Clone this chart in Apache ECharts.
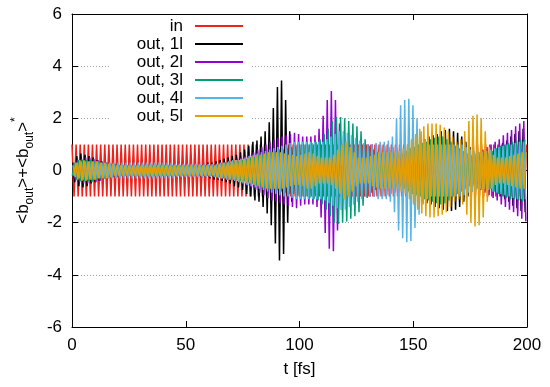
<!DOCTYPE html>
<html>
<head>
<meta charset="utf-8">
<script src="https://cdn.jsdelivr.net/npm/echarts@6/dist/echarts.min.js"></script>
<style>html,body{margin:0;padding:0;background:#fff}#c{width:550px;height:387px}</style>
</head>
<body>
<div id="c"></div>
<script>
// sampling grid: successive extrema (half-period) of the oscillation, fs
const halfPeriod = 0.9;
const seriesNames = ['in', 'out, 1l', 'out, 2l', 'out, 3l', 'out, 4l', 'out, 5l'];
const startTimes = [0, 0.3, 0.6, 0.15, 0.45, 0.75];
const xTicks = [0, 50, 100, 150, 200];
const yTicks = [-6, -4, -2, 0, 2, 4, 6];

const inValues = [
1,-1,1,-1,1,-1,1,-1,1,-1, 1,-1,1,-1,1,-1,1,-1,1,-1, 1,-1,1,-1,1,-1,1,-1,1,-1,
1,-1,1,-1,1,-1,1,-1,1,-1, 1,-1,1,-1,1,-1,1,-1,1,-1, 1,-1,1,-1,1,-1,1,-1,1,-1,
1,-1,1,-1,1,-1,1,-1,1,-1, 1,-1,1,-1,1,-1,1,-1,1,-1, 1,-1,1,-1,1,-1,1,-1,1,-1,
1,-1,1,-1,1,-1,1,-1,1,-1, 1,-1,1,-1,1,-1,1,-1,1,-1, 1,-1,1,-1,1,-1,1,-1,1,-1,
1,-1,1,-1,1,-1,1,-1,1,-1, 1,-1,1,-1,1,-1,1,-1,1,-1, 1,-1,1,-1,1,-1,1,-1,1,-1,
1,-1,1,-1,1,-1,1,-1,1,-1, 1,-1,1,-1,1,-1,1,-1,1,-1, 1,-1,1,-1,1,-1,1,-1,1,-1,
1,-1,1,-1,1,-1,1,-1,1,-1, 1,-1,1,-1,1,-1,1,-1,1,-1, 1,-1,1,-1,1,-1,1,-1,1,-1,
1,-1,1,-1,1,-1,1,-1,1,-1, 1,-1,1
];

const out1Values = [
0.3,-0.45,0.55,-0.6,0.65,-0.65,0.6,-0.6,0.55,-0.5,
0.5,-0.45,0.4,-0.4,0.35,-0.3,0.3,-0.3,0.25,-0.25,
0.25,-0.2,0.2,-0.2,0.2,-0.2,0.15,-0.15,0.15,-0.15,
0.15,-0.15,0.15,-0.15,0.15,-0.15,0.15,-0.15,0.15,-0.15,
0.15,-0.15,0.15,-0.15,0.15,-0.15,0.15,-0.15,0.15,-0.15,
0.15,-0.15,0.15,-0.15,0.15,-0.2,0.2,-0.2,0.2,-0.2,
0.2,-0.2,0.2,-0.25,0.25,-0.25,0.3,-0.3,0.3,-0.35,
0.35,-0.35,0.4,-0.4,0.45,-0.45,0.5,-0.5,0.55,-0.6,
0.6,-0.65,0.7,-0.75,0.8,-0.9,0.95,-1.0,1.1,-1.15,
1.15,-1.2,1.3,-1.4,1.5,-1.65,1.85,-2.1,2.4,-2.8,
3.2,-3.45,3.45,-3.2,2.7,-2.0,1.5,-1.2,1.0,-0.9,
0.8,-0.7,0.7,-0.6,0.6,-0.6,0.5,-0.5,0.5,-0.5,
0.5,-0.5,0.5,-0.5,0.5,-0.5,0.5,-0.5,0.5,-0.5,
0.5,-0.5,0.5,-0.5,0.5,-0.5,0.5,-0.5,0.5,-0.5,
0.5,-0.5,0.5,-0.5,0.55,-0.55,0.6,-0.6,0.6,-0.6,
0.6,-0.6,0.65,-0.65,0.7,-0.7,0.7,-0.75,0.75,-0.8,
0.8,-0.85,0.9,-0.9,0.95,-1.0,1.0,-1.05,1.1,-1.1,
1.15,-1.2,1.2,-1.25,1.3,-1.3,1.35,-1.4,1.4,-1.45,
1.5,-1.5,1.55,-1.55,1.6,-1.55,1.5,-1.5,1.45,-1.4,
1.3,-1.2,1.1,-1.0,0.9,-0.8,0.75,-0.7,0.65,-0.6,
0.6,-0.6,0.6,-0.65,0.7,-0.75,0.8,-0.85,0.9,-1.0,
1.05,-1.1,1.15,-1.2,1.3,-1.35,1.4,-1.45,1.5,-1.55,
1.6,-1.6
];

const out2Values = [
0.25,-0.35,0.4,-0.45,0.45,-0.5,0.5,-0.5,0.5,-0.45,
0.45,-0.45,0.4,-0.4,0.35,-0.3,0.3,-0.25,0.25,-0.2,
0.2,-0.2,0.2,-0.15,0.15,-0.15,0.15,-0.15,0.15,-0.15,
0.15,-0.15,0.15,-0.15,0.15,-0.15,0.15,-0.15,0.15,-0.15,
0.15,-0.15,0.15,-0.15,0.15,-0.15,0.15,-0.15,0.15,-0.15,
0.15,-0.15,0.15,-0.15,0.15,-0.15,0.15,-0.15,0.15,-0.15,
0.15,-0.15,0.15,-0.2,0.2,-0.2,0.2,-0.2,0.25,-0.25,
0.25,-0.25,0.3,-0.3,0.3,-0.35,0.35,-0.35,0.4,-0.4,
0.45,-0.45,0.5,-0.5,0.55,-0.6,0.6,-0.65,0.7,-0.75,
0.8,-0.85,0.9,-0.95,1.0,-1.05,1.1,-1.15,1.2,-1.2,
1.25,-1.25,1.3,-1.3,1.35,-1.35,1.4,-1.4,1.45,-1.45,
1.4,-1.35,1.3,-1.3,1.3,-1.3,1.3,-1.3,1.35,-1.4,
1.6,-1.8,2.1,-2.4,2.7,-3.0,3.05,-3.1,2.7,-2.3,
1.8,-1.5,1.3,-1.15,1.05,-1.0,1.0,-1.0,1.0,-1.0,
1.0,-1.0,1.0,-1.0,1.0,-1.0,1.0,-1.0,1.0,-1.0,
1.0,-1.0,0.95,-0.95,0.9,-0.9,0.9,-0.85,0.85,-0.8,
0.8,-0.8,0.75,-0.75,0.7,-0.7,0.7,-0.65,0.65,-0.6,
0.6,-0.6,0.55,-0.55,0.5,-0.5,0.5,-0.5,0.5,-0.5,
0.5,-0.5,0.5,-0.5,0.5,-0.5,0.5,-0.5,0.5,-0.5,
0.5,-0.5,0.55,-0.55,0.6,-0.6,0.65,-0.7,0.7,-0.75,
0.8,-0.85,0.9,-0.95,1.0,-1.05,1.1,-1.15,1.2,-1.3,
1.35,-1.4,1.45,-1.5,1.55,-1.6,1.7,-1.75,1.8,-1.85,
1.9,-1.95
];

const out3Values = [
-0.2,0.3,-0.35,0.4,-0.4,0.4,-0.4,0.4,-0.4,0.4,
-0.4,0.35,-0.35,0.35,-0.3,0.3,-0.3,0.3,-0.25,0.25,
-0.25,0.25,-0.25,0.2,-0.2,0.2,-0.2,0.2,-0.2,0.2,
-0.2,0.2,-0.2,0.2,-0.2,0.2,-0.2,0.2,-0.2,0.2,
-0.2,0.2,-0.2,0.2,-0.2,0.2,-0.2,0.2,-0.2,0.2,
-0.2,0.2,-0.2,0.2,-0.2,0.2,-0.2,0.2,-0.2,0.2,
-0.2,0.2,-0.2,0.2,-0.2,0.2,-0.2,0.2,-0.2,0.2,
-0.2,0.2,-0.25,0.25,-0.25,0.3,-0.3,0.3,-0.3,0.35,
-0.35,0.35,-0.4,0.4,-0.4,0.45,-0.45,0.5,-0.5,0.5,
-0.55,0.55,-0.6,0.6,-0.65,0.65,-0.7,0.7,-0.7,0.75,
-0.75,0.8,-0.8,0.8,-0.85,0.85,-0.9,0.9,-0.9,0.95,
-0.95,1.0,-1.0,1.0,-1.0,1.0,-1.05,1.05,-1.1,1.1,
-1.15,1.2,-1.3,1.4,-1.5,1.6,-1.75,1.9,-2.0,2.05,
-2.05,2.05,-2.0,2.0,-1.95,1.9,-1.85,1.8,-1.75,1.7,
-1.6,1.5,-1.35,1.2,-1.05,0.95,-0.85,0.8,-0.75,0.7,
-0.7,0.65,-0.6,0.6,-0.6,0.6,-0.6,0.6,-0.6,0.6,
-0.6,0.65,-0.7,0.75,-0.8,0.85,-0.9,0.9,-0.95,1.0,
-1.0,1.05,-1.1,1.1,-1.15,1.2,-1.2,1.25,-1.25,1.3,
-1.3,1.3,-1.25,1.2,-1.15,1.1,-1.0,0.95,-0.9,0.85,
-0.8,0.75,-0.7,0.65,-0.6,0.55,-0.5,0.5,-0.5,0.5,
-0.5,0.55,-0.6,0.65,-0.7,0.75,-0.8,0.85,-0.9,0.95,
-1.0,1.0,-1.05,1.05,-1.1,1.1,-1.1,1.15,-1.15,1.2,
-1.2,1.2
];

const out4Values = [
0.2,-0.25,0.3,-0.3,0.35,-0.35,0.35,-0.35,0.35,-0.35,
0.35,-0.35,0.35,-0.3,0.3,-0.3,0.3,-0.3,0.3,-0.3,
0.3,-0.3,0.3,-0.3,0.3,-0.3,0.3,-0.3,0.3,-0.3,
0.3,-0.3,0.3,-0.3,0.3,-0.3,0.3,-0.3,0.3,-0.3,
0.3,-0.3,0.3,-0.3,0.3,-0.3,0.3,-0.3,0.3,-0.3,
0.25,-0.25,0.25,-0.25,0.25,-0.25,0.25,-0.25,0.25,-0.25,
0.25,-0.25,0.25,-0.25,0.25,-0.25,0.25,-0.25,0.25,-0.25,
0.25,-0.3,0.3,-0.3,0.3,-0.35,0.35,-0.35,0.4,-0.4,
0.4,-0.45,0.45,-0.5,0.5,-0.55,0.55,-0.6,0.6,-0.65,
0.65,-0.7,0.7,-0.75,0.75,-0.8,0.8,-0.85,0.85,-0.9,
0.9,-0.95,0.95,-1.0,1.0,-1.0,1.05,-1.05,1.1,-1.1,
1.1,-1.1,1.1,-1.1,1.1,-1.1,1.1,-1.1,1.1,-1.1,
1.1,-1.1,1.1,-1.15,1.2,-1.25,1.3,-1.35,1.4,-1.45,
1.5,-1.5,1.5,-1.5,1.45,-1.4,1.35,-1.3,1.25,-1.2,
1.15,-1.1,1.05,-1.0,1.0,-1.0,1.0,-1.0,1.05,-1.1,
1.1,-1.1,1.1,-1.1,1.15,-1.2,1.3,-1.6,2.0,-2.3,
2.5,-2.6,2.7,-2.75,2.75,-2.7,2.5,-2.2,2.0,-1.7,
1.5,-1.3,1.2,-1.1,1.0,-1.0,1.0,-1.0,1.0,-1.0,
1.0,-1.0,1.0,-1.0,1.0,-1.0,1.0,-1.0,1.0,-1.0,
1.0,-0.95,0.9,-0.85,0.8,-0.8,0.75,-0.75,0.7,-0.7,
0.7,-0.7,0.75,-0.75,0.8,-0.8,0.85,-0.85,0.9,-0.9,
0.95,-0.95,1.0,-1.0,1.0,-1.05,1.05,-1.1,1.1,-1.1,
1.1,-1.1
];

const out5Values = [
-0.2,0.3,-0.35,0.4,-0.4,0.4,-0.4,0.35,-0.35,0.35,
-0.35,0.35,-0.3,0.3,-0.3,0.3,-0.3,0.25,-0.25,0.25,
-0.2,0.2,-0.2,0.2,-0.2,0.2,-0.2,0.2,-0.2,0.2,
-0.2,0.2,-0.2,0.2,-0.2,0.2,-0.2,0.2,-0.2,0.2,
-0.2,0.2,-0.2,0.2,-0.2,0.2,-0.2,0.2,-0.2,0.2,
-0.2,0.2,-0.2,0.2,-0.2,0.2,-0.2,0.2,-0.2,0.2,
-0.2,0.2,-0.2,0.2,-0.2,0.2,-0.2,0.2,-0.2,0.2,
-0.25,0.25,-0.3,0.3,-0.3,0.3,-0.35,0.35,-0.35,0.4,
-0.4,0.4,-0.45,0.45,-0.5,0.5,-0.5,0.55,-0.55,0.6,
-0.6,0.6,-0.65,0.65,-0.7,0.7,-0.7,0.7,-0.7,0.7,
-0.7,0.7,-0.7,0.65,-0.65,0.6,-0.6,0.6,-0.55,0.55,
-0.55,0.6,-0.6,0.65,-0.7,0.7,-0.7,0.65,-0.6,0.55,
-0.5,0.5,-0.5,0.5,-0.5,0.5,-0.55,0.6,-0.7,0.8,
-0.9,1.0,-1.1,1.1,-1.0,0.9,-0.8,0.7,-0.6,0.5,
-0.5,0.5,-0.5,0.5,-0.5,0.55,-0.6,0.6,-0.65,0.7,
-0.7,0.7,-0.7,0.7,-0.7,0.7,-0.7,0.7,-0.7,0.75,
-0.8,0.85,-0.9,1.0,-1.1,1.2,-1.3,1.4,-1.5,1.6,
-1.65,1.7,-1.75,1.8,-1.8,1.8,-1.8,1.8,-1.75,1.75,
-1.7,1.65,-1.6,1.5,-1.4,1.3,-1.2,1.1,-1.1,1.2,
-1.3,1.5,-1.7,1.9,-2.0,2.1,-2.15,2.15,-2.1,2.0,
-1.8,1.5,-1.2,0.9,-0.7,0.6,-0.55,0.5,-0.5,0.5,
-0.5,0.5,-0.55,0.55,-0.6,0.6,-0.65,0.65,-0.7,0.7,
-0.7,0.7
];

const allValues = [inValues, out1Values, out2Values, out3Values, out4Values, out5Values];
const colors = ['#f0201a', '#000000', '#9400d3', '#009e73', '#56b4e9', '#e69f00'];

const FONT = 'Liberation Sans, Arial, Helvetica, sans-serif';

const series = seriesNames.map((name, s) => ({
  name: name,
  type: 'line',
  showSymbol: false,
  symbol: 'none',
  animation: false,
  clip: true,
  color: colors[s],
  lineStyle: { color: colors[s], width: 1.5 },
  data: allValues[s].map((v, i) => [startTimes[s] + i * halfPeriod, v])
}));

const chart = echarts.init(document.getElementById('c'), null, { renderer: 'canvas' });
chart.setOption({
  animation: false,
  backgroundColor: '#fff',
  grid: { left: 72, right: 23, top: 14, bottom: 60 },
  legend: {
    orient: 'vertical',
    left: 111,
    top: 15,
    align: 'right',
    icon: 'rect',
    itemWidth: 48,
    itemHeight: 2,
    itemGap: 0,
    padding: [2, 9, 4, 12],
    backgroundColor: '#ffffff',
    selectedMode: false,
    data: seriesNames,
    textStyle: { fontFamily: FONT, fontSize: 17, color: '#000', width: 60, align: 'right', lineHeight: 18, padding: [0, 7, 0, 0] }
  },
  xAxis: [{
    type: 'value', min: xTicks[0], max: xTicks[xTicks.length - 1], interval: 50,
    position: 'bottom',
    name: 't [fs]', nameLocation: 'middle', nameGap: 34,
    nameTextStyle: { fontFamily: FONT, fontSize: 17, color: '#000' },
    axisLine: { show: true, onZero: false, lineStyle: { color: '#000', width: 1 } },
    axisTick: { show: true, inside: true, length: 6, lineStyle: { color: '#000' } },
    axisLabel: { fontFamily: FONT, fontSize: 17, color: '#000', margin: 10 },
    splitLine: { show: false }
  }, {
    type: 'value', min: xTicks[0], max: xTicks[xTicks.length - 1], interval: 50,
    position: 'top',
    axisLine: { show: true, onZero: false, lineStyle: { color: '#000', width: 1 } },
    axisTick: { show: true, inside: true, length: 6, lineStyle: { color: '#000' } },
    axisLabel: { show: false },
    splitLine: { show: false }
  }],
  yAxis: [{
    type: 'value', min: yTicks[0], max: yTicks[yTicks.length - 1], interval: 2,
    position: 'left',
    name: '<b{sub|out}>+<b{sub|out}>{sup|*}',
    nameLocation: 'middle', nameGap: 38, nameRotate: 90,
    nameTextStyle: {
      fontFamily: FONT, fontSize: 17, color: '#000', lineHeight: 26, verticalAlign: 'middle',
      rich: {
        sub: { fontFamily: FONT, fontSize: 12, color: '#000', lineHeight: 12, verticalAlign: 'bottom' },
        sup: { fontFamily: FONT, fontSize: 12, color: '#000', lineHeight: 12, verticalAlign: 'top' }
      }
    },
    axisLine: { show: true, onZero: false, lineStyle: { color: '#000', width: 1 } },
    axisTick: { show: true, inside: true, length: 6, lineStyle: { color: '#000' } },
    axisLabel: { fontFamily: FONT, fontSize: 17, color: '#000', margin: 10 },
    splitLine: { show: true, lineStyle: { color: '#a0a0a0', width: 1, type: [1, 2] } }
  }, {
    type: 'value', min: yTicks[0], max: yTicks[yTicks.length - 1], interval: 2,
    position: 'right',
    axisLine: { show: true, onZero: false, lineStyle: { color: '#000', width: 1 } },
    axisTick: { show: true, inside: true, length: 6, lineStyle: { color: '#000' } },
    axisLabel: { show: false },
    splitLine: { show: false }
  }],
  series: series
});
</script>
</body>
</html>
